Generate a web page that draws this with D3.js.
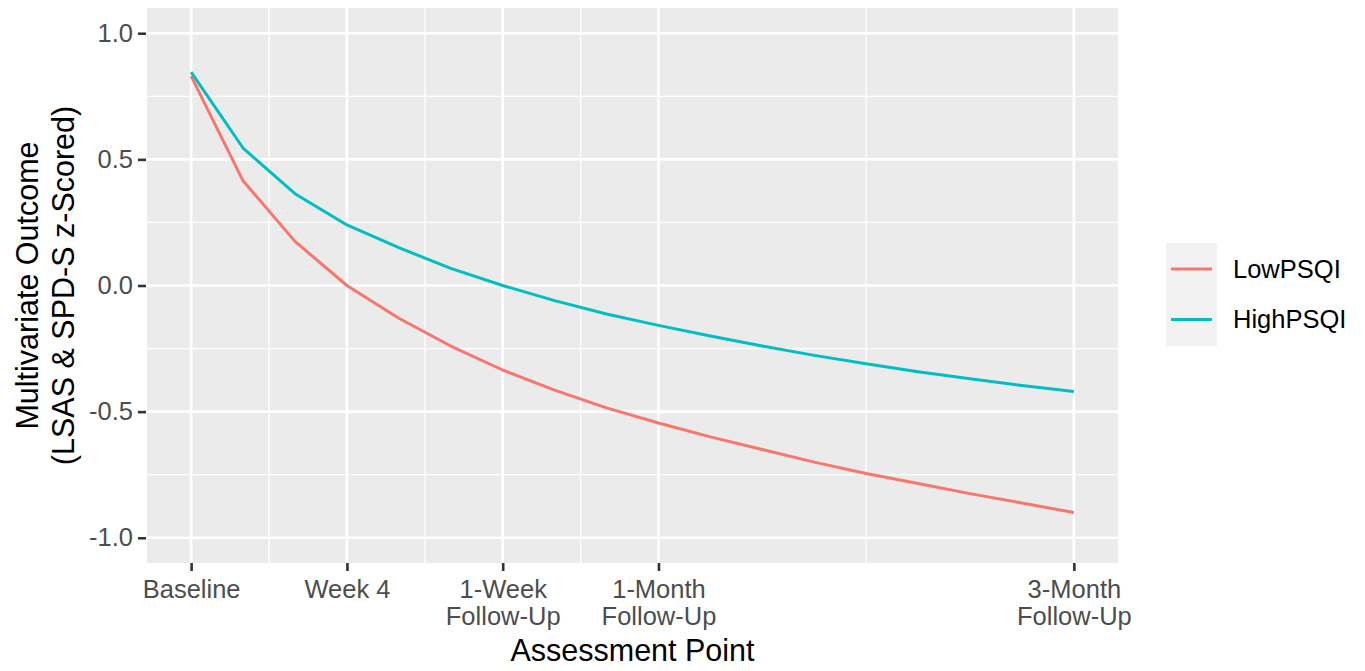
<!DOCTYPE html>
<html>
<head>
<meta charset="utf-8">
<script src="https://cdn.jsdelivr.net/npm/d3@7"></script>
<style>
  body { margin: 0; background: #ffffff; }
  svg { display: block; font-family: "Liberation Sans", Arial, Helvetica, sans-serif; }
</style>
</head>
<body>
<svg id="chart" width="1365" height="671"></svg>
<script>
// ---- data ----
const timePoints = [0,1,2,3,4,5,6,7,8,9,10,11,12,13,14,15,16,17];
const lowPSQI  = [0.83, 0.415, 0.175, 0.0, -0.13, -0.24, -0.335, -0.415, -0.485, -0.545, -0.60, -0.65, -0.70, -0.745, -0.785, -0.825, -0.862, -0.90];
const highPSQI = [0.846, 0.545, 0.364, 0.24, 0.15, 0.068, 0.0, -0.06, -0.113, -0.158, -0.20, -0.24, -0.277, -0.31, -0.342, -0.37, -0.396, -0.42];
const seriesNames = ["LowPSQI", "HighPSQI"];
const seriesColors = ["#F8766D", "#00BFC4"];
const xTickValues = [0, 3, 6, 9, 17];
const xTickLabels = [["Baseline"], ["Week 4"], ["1-Week", "Follow-Up"], ["1-Month", "Follow-Up"], ["3-Month", "Follow-Up"]];
const xMinorValues = [1.5, 4.5, 7.5, 13];
const yTickValues = [-1.0, -0.5, 0.0, 0.5, 1.0];
const yMinorValues = [-0.75, -0.25, 0.25, 0.75];
const xTitle = "Assessment Point";
const yTitle = ["Multivariate Outcome", "(LSAS & SPD-S z-Scored)"];

// ---- layout ----
const svg = d3.select("#chart");
const panel = { left: 147, right: 1118, top: 8, bottom: 563 };
const x = d3.scaleLinear().domain([-0.85, 17.85]).range([panel.left, panel.right]);
const y = d3.scaleLinear().domain([-1.1, 1.1]).range([panel.bottom, panel.top]);

// panel background
svg.append("rect")
  .attr("x", panel.left).attr("y", panel.top)
  .attr("width", panel.right - panel.left).attr("height", panel.bottom - panel.top)
  .attr("fill", "#EBEBEB");

const grid = svg.append("g");
// minor grid
grid.selectAll(".ymin").data(yMinorValues).enter().append("line")
  .attr("x1", panel.left).attr("x2", panel.right)
  .attr("y1", d => y(d)).attr("y2", d => y(d))
  .attr("stroke", "#fff").attr("stroke-width", 1.3);
grid.selectAll(".xmin").data(xMinorValues).enter().append("line")
  .attr("y1", panel.top).attr("y2", panel.bottom)
  .attr("x1", d => x(d)).attr("x2", d => x(d))
  .attr("stroke", "#fff").attr("stroke-width", 1.3);
// major grid
grid.selectAll(".ymaj").data(yTickValues).enter().append("line")
  .attr("x1", panel.left).attr("x2", panel.right)
  .attr("y1", d => y(d)).attr("y2", d => y(d))
  .attr("stroke", "#fff").attr("stroke-width", 2.6);
grid.selectAll(".xmaj").data(xTickValues).enter().append("line")
  .attr("y1", panel.top).attr("y2", panel.bottom)
  .attr("x1", d => x(d)).attr("x2", d => x(d))
  .attr("stroke", "#fff").attr("stroke-width", 2.6);

// lines
const line = d3.line().x((d, i) => x(timePoints[i])).y(d => y(d));
[lowPSQI, highPSQI].forEach((vals, k) => {
  svg.append("path").datum(vals)
    .attr("d", line)
    .attr("fill", "none")
    .attr("stroke", seriesColors[k])
    .attr("stroke-width", 3)
    .attr("stroke-linejoin", "round");
});

// y axis
const yAxis = d3.axisLeft(y).tickValues(yTickValues).tickSize(8).tickPadding(5)
  .tickFormat(d3.format(".1f"));
const yg = svg.append("g").attr("transform", `translate(${panel.left - 1},0)`).call(yAxis);
yg.select(".domain").remove();
yg.selectAll(".tick line").attr("stroke", "#333").attr("stroke-width", 2.6);
yg.selectAll(".tick text").attr("fill", "#4D4D4D").style("font-size", "25.5px")
  .text(d => d3.format(".1f")(d).replace("−", "-"));

// x axis
const xAxis = d3.axisBottom(x).tickValues(xTickValues).tickSize(8).tickFormat("");
const xg = svg.append("g").attr("transform", `translate(0,${panel.bottom})`).call(xAxis);
xg.select(".domain").remove();
xg.selectAll(".tick line").attr("stroke", "#333").attr("stroke-width", 2.6);
xg.selectAll(".tick").each(function(d, i) {
  const t = d3.select(this).append("text")
    .attr("fill", "#4D4D4D").attr("text-anchor", "middle")
    .style("font-size", "25.5px");
  xTickLabels[i].forEach((s, j) => {
    t.append("tspan").attr("x", 0).attr("y", 35 + j * 27).text(s);
  });
});

// axis titles
svg.append("text")
  .attr("x", (panel.left + panel.right) / 2).attr("y", 661)
  .attr("text-anchor", "middle").attr("fill", "#000")
  .style("font-size", "30.5px").text(xTitle);

const yt = svg.append("text")
  .attr("transform", `translate(0,${(panel.top + panel.bottom) / 2}) rotate(-90)`)
  .attr("text-anchor", "middle").attr("fill", "#000").style("font-size", "30.5px");
yTitle.forEach((s, j) => {
  yt.append("tspan").attr("x", 0).attr("y", 38 + j * 36).text(s);
});

// legend
const lg = svg.append("g").attr("transform", "translate(1166,243)");
lg.append("rect").attr("x", 0).attr("y", 0).attr("width", 51).attr("height", 103).attr("fill", "#F2F2F2");
seriesNames.forEach((name, k) => {
  const cy = 26 + k * 50.5;
  lg.append("line").attr("x1", 5).attr("x2", 46).attr("y1", cy).attr("y2", cy)
    .attr("stroke", seriesColors[k]).attr("stroke-width", 3);
  lg.append("text").attr("x", 67).attr("y", cy).attr("dy", "0.35em")
    .attr("fill", "#000").style("font-size", "25.5px").text(name);
});
</script>
</body>
</html>
